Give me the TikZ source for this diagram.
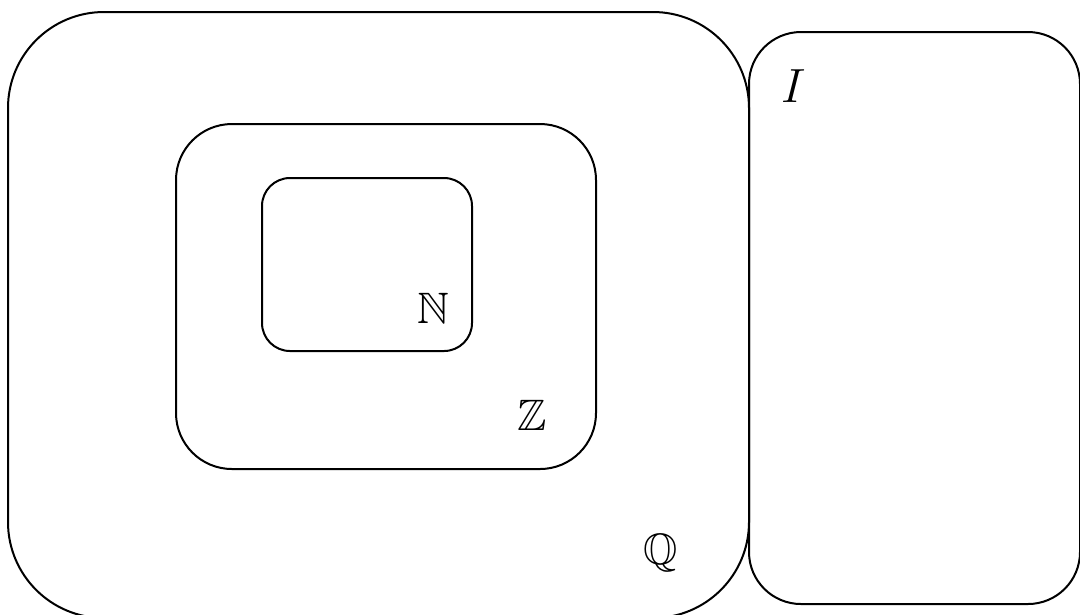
\documentclass[tikz,border=0pt]{standalone}
\usepackage{amsfonts}
\usepackage{amssymb}
\usepackage{tikz}
\usetikzlibrary{positioning}
\tikzset{setbox/.style = {draw, line width = 0.5pt}}
\tikzset{setname/.style = {inner sep = 0, font = \fontsize{11}{13}\selectfont}}

\begin{document}
\begin{tikzpicture}[x=0.25pt, y=-0.25pt]
          \useasboundingbox (0, 0) rectangle (1080, 614);
          \draw [setbox, rounded corners = 24pt] (8, 12) rectangle (749, 618);
          \draw [setbox, rounded corners = 13pt] (749, 32) rectangle (1080, 604);
          \draw [setbox, rounded corners = 14pt] (176, 124) rectangle (596, 469);
          \draw [setbox, rounded corners = 7pt] (262, 178) rectangle (472, 351);
          \node (nat) at (433, 308) [setname] {$\mathbb{N}$};
          \node (int) at (532, 415) [setname] {$\mathbb{Z}$};
          \node (rat) at (661, 553) [setname] {$\mathbb{Q}$};
          \node (irr) at (794, 86) [setname, font = \large] {$I$};
        \end{tikzpicture}
\end{document}
